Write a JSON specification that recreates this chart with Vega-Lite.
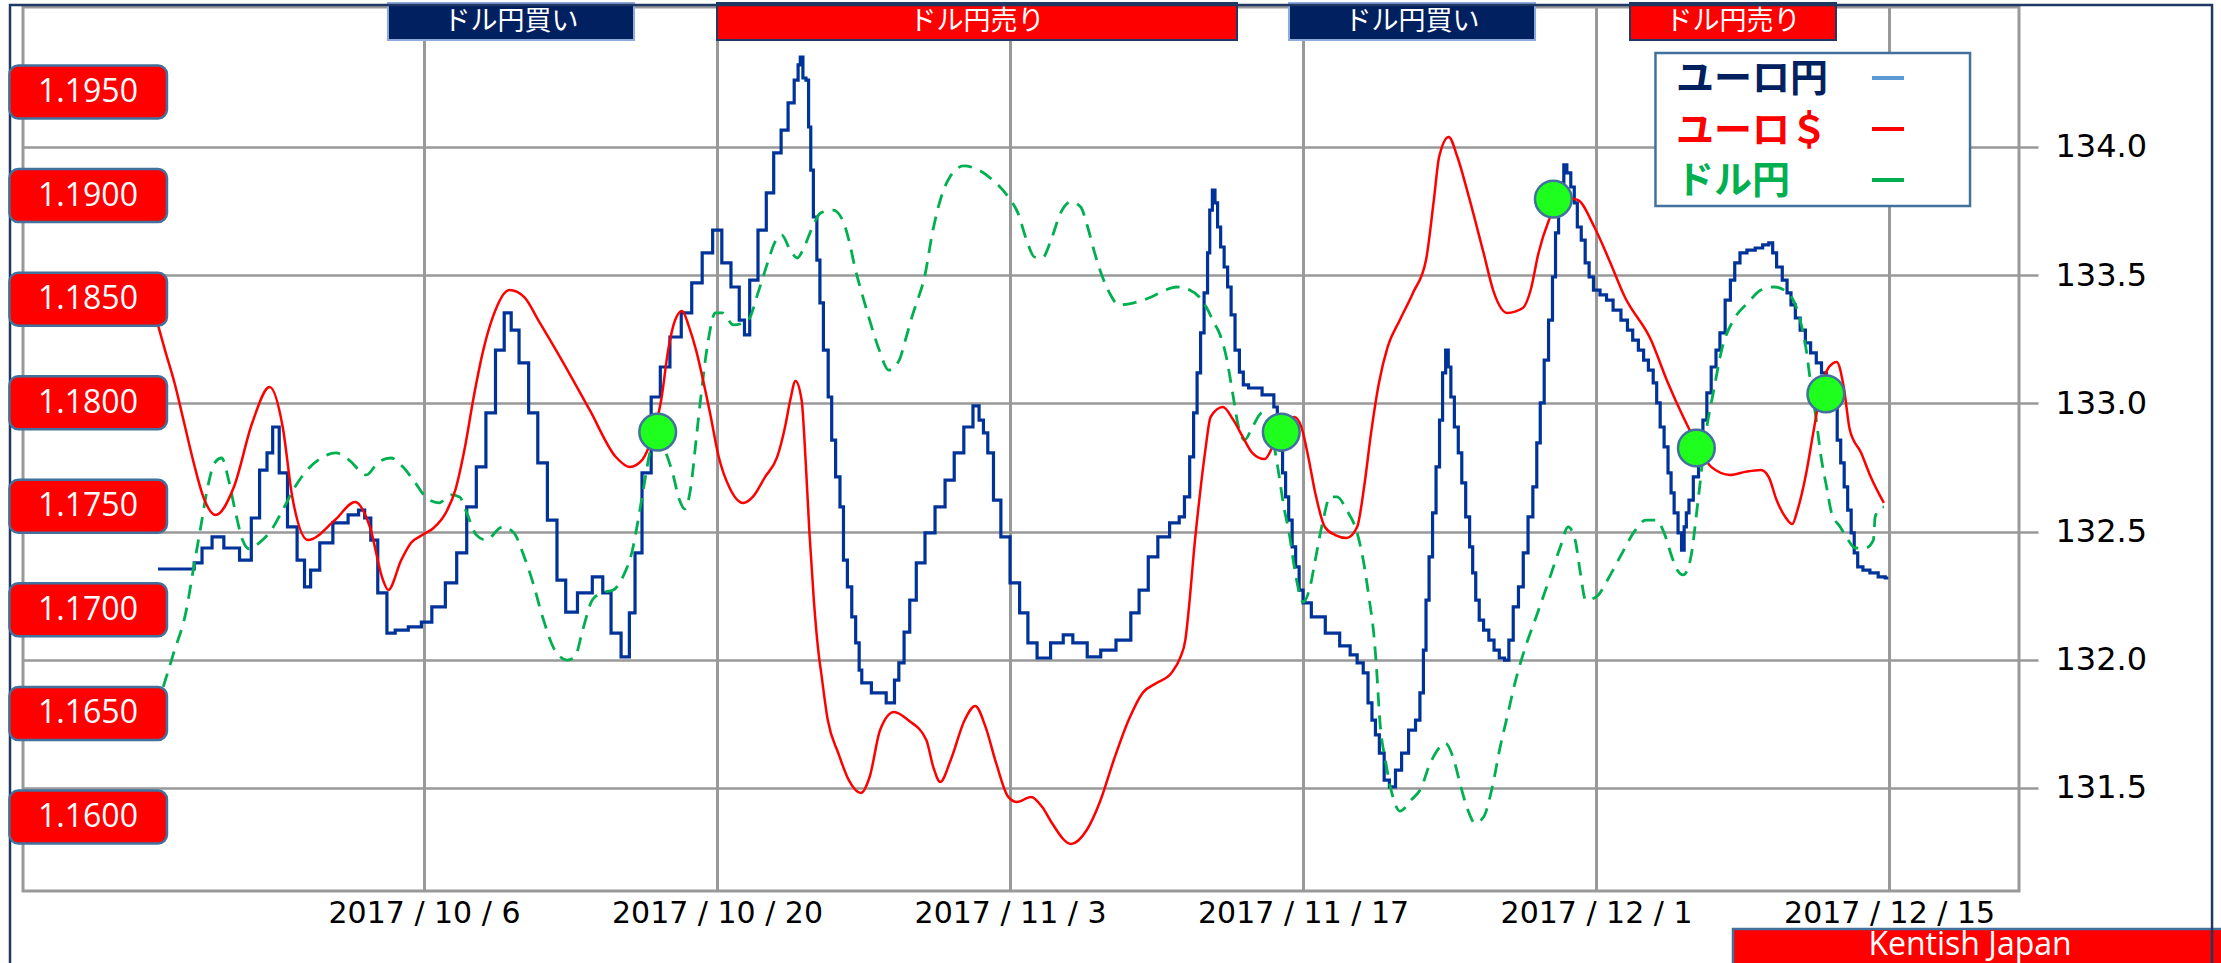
{
"$schema": "https://vega.github.io/schema/vega-lite/v6.json",
"width": 1996,
"height": 884,
"autosize": {"type": "none"},
"padding": {"left": 23, "top": 7, "right": 202, "bottom": 72},
"background": "#ffffff",
"config": {"view": {"stroke": "#999999", "strokeWidth": 3}, "font": "DejaVu Sans"},
"datasets": {
"eurjpy": [
{"date":"2017-09-23T07:00Z","rate":132.354},{"date":"2017-09-24T22:00Z","rate":132.354},{"date":"2017-09-25T03:00Z","rate":132.378},{"date":"2017-09-25T16:00Z","rate":132.436},{"date":"2017-09-26T02:00Z","rate":132.479},{"date":"2017-09-26T19:00Z","rate":132.436},{"date":"2017-09-27T14:00Z","rate":132.389},{"date":"2017-09-27T22:00Z","rate":132.553},{"date":"2017-09-28T09:00Z","rate":132.740},{"date":"2017-09-28T15:00Z","rate":132.807},{"date":"2017-09-28T22:00Z","rate":132.908},{"date":"2017-09-29T06:00Z","rate":132.729},{"date":"2017-09-29T17:00Z","rate":132.518},{"date":"2017-09-30T04:00Z","rate":132.389},{"date":"2017-09-30T10:00Z","rate":132.284},{"date":"2017-09-30T18:00Z","rate":132.350},{"date":"2017-10-01T07:00Z","rate":132.456},{"date":"2017-10-02T00:00Z","rate":132.534},{"date":"2017-10-02T18:00Z","rate":132.565},{"date":"2017-10-03T00:00Z","rate":132.584},{"date":"2017-10-03T08:00Z","rate":132.553},{"date":"2017-10-03T14:00Z","rate":132.467},{"date":"2017-10-04T00:00Z","rate":132.261},{"date":"2017-10-04T11:00Z","rate":132.104},{"date":"2017-10-04T19:00Z","rate":132.116},{"date":"2017-10-05T17:00Z","rate":132.128},{"date":"2017-10-06T01:00Z","rate":132.147},{"date":"2017-10-06T17:00Z","rate":132.206},{"date":"2017-10-07T08:00Z","rate":132.300},{"date":"2017-10-07T19:00Z","rate":132.417},{"date":"2017-10-08T07:00Z","rate":132.596},{"date":"2017-10-08T17:00Z","rate":132.752},{"date":"2017-10-09T05:00Z","rate":132.963},{"date":"2017-10-09T15:00Z","rate":133.208},{"date":"2017-10-10T01:00Z","rate":133.353},{"date":"2017-10-10T07:00Z","rate":133.286},{"date":"2017-10-10T19:00Z","rate":133.158},{"date":"2017-10-11T05:00Z","rate":132.963},{"date":"2017-10-11T16:00Z","rate":132.768},{"date":"2017-10-12T03:00Z","rate":132.545},{"date":"2017-10-12T14:00Z","rate":132.311},{"date":"2017-10-12T23:00Z","rate":132.186},{"date":"2017-10-13T17:00Z","rate":132.261},{"date":"2017-10-14T09:00Z","rate":132.323},{"date":"2017-10-14T17:00Z","rate":132.261},{"date":"2017-10-15T04:00Z","rate":132.104},{"date":"2017-10-15T16:00Z","rate":132.011},{"date":"2017-10-15T23:00Z","rate":132.183},{"date":"2017-10-16T05:00Z","rate":132.417},{"date":"2017-10-16T15:00Z","rate":132.729},{"date":"2017-10-17T02:00Z","rate":133.025},{"date":"2017-10-17T12:00Z","rate":133.142},{"date":"2017-10-18T00:00Z","rate":133.259},{"date":"2017-10-18T14:00Z","rate":133.353},{"date":"2017-10-19T00:00Z","rate":133.470},{"date":"2017-10-19T14:00Z","rate":133.587},{"date":"2017-10-20T00:00Z","rate":133.676},{"date":"2017-10-20T11:00Z","rate":133.548},{"date":"2017-10-20T21:00Z","rate":133.454},{"date":"2017-10-21T06:00Z","rate":133.325},{"date":"2017-10-21T09:00Z","rate":133.267},{"date":"2017-10-21T18:00Z","rate":133.481},{"date":"2017-10-22T04:00Z","rate":133.676},{"date":"2017-10-22T13:00Z","rate":133.821},{"date":"2017-10-22T21:00Z","rate":133.977},{"date":"2017-10-23T06:00Z","rate":134.066},{"date":"2017-10-23T13:00Z","rate":134.172},{"date":"2017-10-23T20:00Z","rate":134.261},{"date":"2017-10-23T22:00Z","rate":134.320},{"date":"2017-10-24T01:00Z","rate":134.351},{"date":"2017-10-24T04:00Z","rate":134.269},{"date":"2017-10-24T08:00Z","rate":134.261},{"date":"2017-10-24T10:00Z","rate":134.078},{"date":"2017-10-24T13:00Z","rate":133.910},{"date":"2017-10-24T16:00Z","rate":133.727},{"date":"2017-10-24T21:00Z","rate":133.559},{"date":"2017-10-24T23:00Z","rate":133.392},{"date":"2017-10-25T05:00Z","rate":133.208},{"date":"2017-10-25T10:00Z","rate":133.025},{"date":"2017-10-25T13:00Z","rate":132.857},{"date":"2017-10-25T19:00Z","rate":132.713},{"date":"2017-10-25T23:00Z","rate":132.596},{"date":"2017-10-26T03:00Z","rate":132.389},{"date":"2017-10-26T08:00Z","rate":132.284},{"date":"2017-10-26T13:00Z","rate":132.167},{"date":"2017-10-26T17:00Z","rate":132.066},{"date":"2017-10-26T21:00Z","rate":131.960},{"date":"2017-10-26T23:00Z","rate":131.910},{"date":"2017-10-27T19:00Z","rate":131.871},{"date":"2017-10-28T09:00Z","rate":131.832},{"date":"2017-10-28T14:00Z","rate":131.921},{"date":"2017-10-28T19:00Z","rate":131.988},{"date":"2017-10-29T02:00Z","rate":132.108},{"date":"2017-10-29T08:00Z","rate":132.233},{"date":"2017-10-29T17:00Z","rate":132.378},{"date":"2017-10-30T04:00Z","rate":132.495},{"date":"2017-10-30T16:00Z","rate":132.596},{"date":"2017-10-31T03:00Z","rate":132.701},{"date":"2017-10-31T13:00Z","rate":132.807},{"date":"2017-11-01T01:00Z","rate":132.908},{"date":"2017-11-01T10:00Z","rate":132.990},{"date":"2017-11-01T15:00Z","rate":132.935},{"date":"2017-11-01T20:00Z","rate":132.885},{"date":"2017-11-02T01:00Z","rate":132.807},{"date":"2017-11-02T09:00Z","rate":132.623},{"date":"2017-11-02T18:00Z","rate":132.479},{"date":"2017-11-03T06:00Z","rate":132.300},{"date":"2017-11-03T16:00Z","rate":132.183},{"date":"2017-11-04T01:00Z","rate":132.066},{"date":"2017-11-04T13:00Z","rate":132.007},{"date":"2017-11-05T08:00Z","rate":132.066},{"date":"2017-11-05T18:00Z","rate":132.097},{"date":"2017-11-06T06:00Z","rate":132.066},{"date":"2017-11-07T03:00Z","rate":132.011},{"date":"2017-11-07T13:00Z","rate":132.038},{"date":"2017-11-08T14:00Z","rate":132.077},{"date":"2017-11-08T23:00Z","rate":132.183},{"date":"2017-11-09T09:00Z","rate":132.272},{"date":"2017-11-09T20:00Z","rate":132.401},{"date":"2017-11-10T07:00Z","rate":132.479},{"date":"2017-11-10T23:00Z","rate":132.534},{"date":"2017-11-11T05:00Z","rate":132.557},{"date":"2017-11-11T11:00Z","rate":132.635},{"date":"2017-11-11T17:00Z","rate":132.791},{"date":"2017-11-11T20:00Z","rate":132.963},{"date":"2017-11-12T01:00Z","rate":133.119},{"date":"2017-11-12T04:00Z","rate":133.275},{"date":"2017-11-12T09:00Z","rate":133.431},{"date":"2017-11-12T12:00Z","rate":133.587},{"date":"2017-11-12T14:00Z","rate":133.754},{"date":"2017-11-12T18:00Z","rate":133.832},{"date":"2017-11-12T20:00Z","rate":133.782},{"date":"2017-11-13T00:00Z","rate":133.688},{"date":"2017-11-13T03:00Z","rate":133.610},{"date":"2017-11-13T08:00Z","rate":133.532},{"date":"2017-11-13T11:00Z","rate":133.454},{"date":"2017-11-13T16:00Z","rate":133.345},{"date":"2017-11-13T20:00Z","rate":133.208},{"date":"2017-11-14T02:00Z","rate":133.122},{"date":"2017-11-14T05:00Z","rate":133.072},{"date":"2017-11-14T14:00Z","rate":133.060},{"date":"2017-11-15T12:00Z","rate":133.033},{"date":"2017-11-15T17:00Z","rate":132.986},{"date":"2017-11-15T20:00Z","rate":132.935},{"date":"2017-11-15T23:00Z","rate":132.818},{"date":"2017-11-16T02:00Z","rate":132.729},{"date":"2017-11-16T06:00Z","rate":132.635},{"date":"2017-11-16T09:00Z","rate":132.545},{"date":"2017-11-16T14:00Z","rate":132.440},{"date":"2017-11-16T17:00Z","rate":132.362},{"date":"2017-11-16T22:00Z","rate":132.272},{"date":"2017-11-17T02:00Z","rate":132.222},{"date":"2017-11-17T17:00Z","rate":132.167},{"date":"2017-11-18T10:00Z","rate":132.104},{"date":"2017-11-19T02:00Z","rate":132.054},{"date":"2017-11-19T10:00Z","rate":132.019},{"date":"2017-11-19T18:00Z","rate":131.988},{"date":"2017-11-20T00:00Z","rate":131.949},{"date":"2017-11-20T05:00Z","rate":131.832},{"date":"2017-11-20T09:00Z","rate":131.765},{"date":"2017-11-20T13:00Z","rate":131.707},{"date":"2017-11-20T18:00Z","rate":131.636},{"date":"2017-11-21T00:00Z","rate":131.531},{"date":"2017-11-21T06:00Z","rate":131.504},{"date":"2017-11-21T14:00Z","rate":131.570},{"date":"2017-11-21T20:00Z","rate":131.636},{"date":"2017-11-22T06:00Z","rate":131.726},{"date":"2017-11-22T12:00Z","rate":131.765},{"date":"2017-11-22T16:00Z","rate":131.871},{"date":"2017-11-22T20:00Z","rate":132.038},{"date":"2017-11-22T22:00Z","rate":132.233},{"date":"2017-11-23T03:00Z","rate":132.401},{"date":"2017-11-23T06:00Z","rate":132.573},{"date":"2017-11-23T11:00Z","rate":132.752},{"date":"2017-11-23T14:00Z","rate":132.935},{"date":"2017-11-23T18:00Z","rate":133.119},{"date":"2017-11-23T21:00Z","rate":133.208},{"date":"2017-11-24T00:00Z","rate":133.142},{"date":"2017-11-24T03:00Z","rate":133.025},{"date":"2017-11-24T08:00Z","rate":132.908},{"date":"2017-11-24T12:00Z","rate":132.807},{"date":"2017-11-24T16:00Z","rate":132.690},{"date":"2017-11-24T21:00Z","rate":132.557},{"date":"2017-11-25T01:00Z","rate":132.440},{"date":"2017-11-25T04:00Z","rate":132.339},{"date":"2017-11-25T08:00Z","rate":132.233},{"date":"2017-11-25T12:00Z","rate":132.155},{"date":"2017-11-25T18:00Z","rate":132.116},{"date":"2017-11-26T00:00Z","rate":132.077},{"date":"2017-11-26T06:00Z","rate":132.038},{"date":"2017-11-26T12:00Z","rate":132.007},{"date":"2017-11-26T18:00Z","rate":131.999},{"date":"2017-11-26T22:00Z","rate":132.077},{"date":"2017-11-27T04:00Z","rate":132.206},{"date":"2017-11-27T10:00Z","rate":132.284},{"date":"2017-11-27T15:00Z","rate":132.417},{"date":"2017-11-27T21:00Z","rate":132.557},{"date":"2017-11-28T02:00Z","rate":132.674},{"date":"2017-11-28T06:00Z","rate":132.846},{"date":"2017-11-28T10:00Z","rate":133.002},{"date":"2017-11-28T15:00Z","rate":133.169},{"date":"2017-11-28T20:00Z","rate":133.325},{"date":"2017-11-29T00:00Z","rate":133.493},{"date":"2017-11-29T03:00Z","rate":133.665},{"date":"2017-11-29T07:00Z","rate":133.743},{"date":"2017-11-29T09:00Z","rate":133.860},{"date":"2017-11-29T13:00Z","rate":133.930},{"date":"2017-11-29T16:00Z","rate":133.899},{"date":"2017-11-29T22:00Z","rate":133.844},{"date":"2017-11-30T00:00Z","rate":133.782},{"date":"2017-11-30T05:00Z","rate":133.688},{"date":"2017-11-30T09:00Z","rate":133.637},{"date":"2017-11-30T14:00Z","rate":133.548},{"date":"2017-11-30T18:00Z","rate":133.493},{"date":"2017-12-01T00:00Z","rate":133.442},{"date":"2017-12-01T09:00Z","rate":133.423},{"date":"2017-12-01T15:00Z","rate":133.403},{"date":"2017-12-02T00:00Z","rate":133.364},{"date":"2017-12-02T09:00Z","rate":133.325},{"date":"2017-12-02T15:00Z","rate":133.286},{"date":"2017-12-02T21:00Z","rate":133.247},{"date":"2017-12-03T04:00Z","rate":133.208},{"date":"2017-12-03T09:00Z","rate":133.169},{"date":"2017-12-03T15:00Z","rate":133.130},{"date":"2017-12-03T20:00Z","rate":133.080},{"date":"2017-12-03T23:00Z","rate":133.002},{"date":"2017-12-04T04:00Z","rate":132.908},{"date":"2017-12-04T08:00Z","rate":132.830},{"date":"2017-12-04T13:00Z","rate":132.729},{"date":"2017-12-04T15:00Z","rate":132.651},{"date":"2017-12-04T20:00Z","rate":132.573},{"date":"2017-12-05T00:00Z","rate":132.495},{"date":"2017-12-05T04:00Z","rate":132.428},{"date":"2017-12-05T06:00Z","rate":132.518},{"date":"2017-12-05T09:00Z","rate":132.573},{"date":"2017-12-05T12:00Z","rate":132.623},{"date":"2017-12-05T19:00Z","rate":132.713},{"date":"2017-12-06T00:00Z","rate":132.830},{"date":"2017-12-06T05:00Z","rate":132.935},{"date":"2017-12-06T09:00Z","rate":133.041},{"date":"2017-12-06T15:00Z","rate":133.142},{"date":"2017-12-06T20:00Z","rate":133.208},{"date":"2017-12-07T00:00Z","rate":133.275},{"date":"2017-12-07T08:00Z","rate":133.403},{"date":"2017-12-07T12:00Z","rate":133.481},{"date":"2017-12-07T18:00Z","rate":133.548},{"date":"2017-12-08T00:00Z","rate":133.587},{"date":"2017-12-08T10:00Z","rate":133.598},{"date":"2017-12-08T19:00Z","rate":133.606},{"date":"2017-12-09T03:00Z","rate":133.618},{"date":"2017-12-09T09:00Z","rate":133.626},{"date":"2017-12-09T12:00Z","rate":133.587},{"date":"2017-12-09T18:00Z","rate":133.532},{"date":"2017-12-10T01:00Z","rate":133.481},{"date":"2017-12-10T05:00Z","rate":133.431},{"date":"2017-12-10T10:00Z","rate":133.384},{"date":"2017-12-10T15:00Z","rate":133.333},{"date":"2017-12-10T21:00Z","rate":133.286},{"date":"2017-12-11T03:00Z","rate":133.236},{"date":"2017-12-11T09:00Z","rate":133.197},{"date":"2017-12-11T16:00Z","rate":133.158},{"date":"2017-12-11T21:00Z","rate":133.119},{"date":"2017-12-12T03:00Z","rate":133.064},{"date":"2017-12-12T10:00Z","rate":132.986},{"date":"2017-12-12T15:00Z","rate":132.857},{"date":"2017-12-12T18:00Z","rate":132.768},{"date":"2017-12-12T23:00Z","rate":132.674},{"date":"2017-12-13T02:00Z","rate":132.584},{"date":"2017-12-13T07:00Z","rate":132.495},{"date":"2017-12-13T09:00Z","rate":132.417},{"date":"2017-12-13T15:00Z","rate":132.362},{"date":"2017-12-13T21:00Z","rate":132.350},{"date":"2017-12-14T07:00Z","rate":132.339},{"date":"2017-12-14T16:00Z","rate":132.323},{"date":"2017-12-14T23:00Z","rate":132.319}
],
"eurusd": [
{"date":"2017-09-23T07:00Z","rate":1.18375},{"date":"2017-09-23T15:00Z","rate":1.18254},{"date":"2017-09-24T02:00Z","rate":1.18095},{"date":"2017-09-24T13:00Z","rate":1.17902},{"date":"2017-09-25T00:00Z","rate":1.17709},{"date":"2017-09-25T11:00Z","rate":1.17545},{"date":"2017-09-26T01:00Z","rate":1.17458},{"date":"2017-09-26T22:00Z","rate":1.17593},{"date":"2017-09-27T19:00Z","rate":1.17902},{"date":"2017-09-28T15:00Z","rate":1.18076},{"date":"2017-09-29T06:00Z","rate":1.17883},{"date":"2017-09-29T17:00Z","rate":1.17545},{"date":"2017-09-30T11:00Z","rate":1.17337},{"date":"2017-10-01T18:00Z","rate":1.17434},{"date":"2017-10-02T17:00Z","rate":1.17521},{"date":"2017-10-03T10:00Z","rate":1.17400},{"date":"2017-10-04T01:00Z","rate":1.17144},{"date":"2017-10-04T07:00Z","rate":1.17096},{"date":"2017-10-04T22:00Z","rate":1.17241},{"date":"2017-10-05T09:00Z","rate":1.17323},{"date":"2017-10-05T22:00Z","rate":1.17361},{"date":"2017-10-06T11:00Z","rate":1.17395},{"date":"2017-10-07T01:00Z","rate":1.17468},{"date":"2017-10-07T12:00Z","rate":1.17579},{"date":"2017-10-07T23:00Z","rate":1.17786},{"date":"2017-10-08T09:00Z","rate":1.18028},{"date":"2017-10-08T20:00Z","rate":1.18254},{"date":"2017-10-09T07:00Z","rate":1.18414},{"date":"2017-10-10T02:00Z","rate":1.18544},{"date":"2017-10-10T19:00Z","rate":1.18510},{"date":"2017-10-11T11:00Z","rate":1.18399},{"date":"2017-10-12T14:00Z","rate":1.18206},{"date":"2017-10-13T22:00Z","rate":1.17965},{"date":"2017-10-15T04:00Z","rate":1.17738},{"date":"2017-10-15T20:00Z","rate":1.17690},{"date":"2017-10-16T10:00Z","rate":1.17723},{"date":"2017-10-16T23:00Z","rate":1.17854},{"date":"2017-10-17T08:00Z","rate":1.18013},{"date":"2017-10-17T16:00Z","rate":1.18254},{"date":"2017-10-18T00:00Z","rate":1.18399},{"date":"2017-10-18T08:00Z","rate":1.18443},{"date":"2017-10-18T16:00Z","rate":1.18365},{"date":"2017-10-19T00:00Z","rate":1.18254},{"date":"2017-10-19T08:00Z","rate":1.18110},{"date":"2017-10-19T16:00Z","rate":1.17950},{"date":"2017-10-20T02:00Z","rate":1.17738},{"date":"2017-10-20T14:00Z","rate":1.17593},{"date":"2017-10-21T06:00Z","rate":1.17516},{"date":"2017-10-21T17:00Z","rate":1.17545},{"date":"2017-10-22T07:00Z","rate":1.17641},{"date":"2017-10-22T21:00Z","rate":1.17738},{"date":"2017-10-23T06:00Z","rate":1.17883},{"date":"2017-10-23T12:00Z","rate":1.18013},{"date":"2017-10-23T18:00Z","rate":1.18105},{"date":"2017-10-24T01:00Z","rate":1.18013},{"date":"2017-10-24T06:00Z","rate":1.17690},{"date":"2017-10-24T10:00Z","rate":1.17371},{"date":"2017-10-24T15:00Z","rate":1.17048},{"date":"2017-10-24T21:00Z","rate":1.16772},{"date":"2017-10-24T23:00Z","rate":1.16710},{"date":"2017-10-25T07:00Z","rate":1.16468},{"date":"2017-10-25T19:00Z","rate":1.16309},{"date":"2017-10-26T07:00Z","rate":1.16179},{"date":"2017-10-26T21:00Z","rate":1.16116},{"date":"2017-10-27T07:00Z","rate":1.16193},{"date":"2017-10-27T19:00Z","rate":1.16420},{"date":"2017-10-28T11:00Z","rate":1.16507},{"date":"2017-10-29T03:00Z","rate":1.16468},{"date":"2017-10-30T00:00Z","rate":1.16372},{"date":"2017-10-30T08:00Z","rate":1.16241},{"date":"2017-10-30T16:00Z","rate":1.16169},{"date":"2017-10-31T04:00Z","rate":1.16275},{"date":"2017-10-31T20:00Z","rate":1.16468},{"date":"2017-11-01T08:00Z","rate":1.16536},{"date":"2017-11-01T20:00Z","rate":1.16434},{"date":"2017-11-02T08:00Z","rate":1.16261},{"date":"2017-11-02T22:00Z","rate":1.16097},{"date":"2017-11-03T08:00Z","rate":1.16072},{"date":"2017-11-04T00:00Z","rate":1.16097},{"date":"2017-11-04T13:00Z","rate":1.16048},{"date":"2017-11-05T00:00Z","rate":1.15971},{"date":"2017-11-05T22:00Z","rate":1.15870},{"date":"2017-11-06T16:00Z","rate":1.15937},{"date":"2017-11-07T07:00Z","rate":1.16072},{"date":"2017-11-07T23:00Z","rate":1.16275},{"date":"2017-11-08T16:00Z","rate":1.16468},{"date":"2017-11-09T08:00Z","rate":1.16599},{"date":"2017-11-10T00:00Z","rate":1.16647},{"date":"2017-11-10T17:00Z","rate":1.16695},{"date":"2017-11-11T03:00Z","rate":1.16768},{"date":"2017-11-11T09:00Z","rate":1.16854},{"date":"2017-11-11T14:00Z","rate":1.17048},{"date":"2017-11-11T19:00Z","rate":1.17289},{"date":"2017-11-12T01:00Z","rate":1.17530},{"date":"2017-11-12T08:00Z","rate":1.17772},{"date":"2017-11-12T14:00Z","rate":1.17931},{"date":"2017-11-13T04:00Z","rate":1.17979},{"date":"2017-11-13T16:00Z","rate":1.17917},{"date":"2017-11-14T03:00Z","rate":1.17834},{"date":"2017-11-14T14:00Z","rate":1.17757},{"date":"2017-11-15T04:00Z","rate":1.17728},{"date":"2017-11-15T15:00Z","rate":1.17806},{"date":"2017-11-16T02:00Z","rate":1.17902},{"date":"2017-11-16T14:00Z","rate":1.17931},{"date":"2017-11-16T22:00Z","rate":1.17883},{"date":"2017-11-17T06:00Z","rate":1.17738},{"date":"2017-11-17T14:00Z","rate":1.17564},{"date":"2017-11-18T01:00Z","rate":1.17400},{"date":"2017-11-18T13:00Z","rate":1.17361},{"date":"2017-11-19T02:00Z","rate":1.17347},{"date":"2017-11-19T14:00Z","rate":1.17400},{"date":"2017-11-19T22:00Z","rate":1.17593},{"date":"2017-11-20T06:00Z","rate":1.17854},{"date":"2017-11-20T15:00Z","rate":1.18095},{"date":"2017-11-21T01:00Z","rate":1.18269},{"date":"2017-11-21T15:00Z","rate":1.18399},{"date":"2017-11-22T06:00Z","rate":1.18530},{"date":"2017-11-22T21:00Z","rate":1.18689},{"date":"2017-11-23T06:00Z","rate":1.18979},{"date":"2017-11-23T12:00Z","rate":1.19186},{"date":"2017-11-23T23:00Z","rate":1.19283},{"date":"2017-11-24T09:00Z","rate":1.19186},{"date":"2017-11-24T21:00Z","rate":1.19012},{"date":"2017-11-25T15:00Z","rate":1.18723},{"date":"2017-11-26T03:00Z","rate":1.18530},{"date":"2017-11-26T18:00Z","rate":1.18433},{"date":"2017-11-27T12:00Z","rate":1.18457},{"date":"2017-11-27T21:00Z","rate":1.18544},{"date":"2017-11-28T06:00Z","rate":1.18723},{"date":"2017-11-28T18:00Z","rate":1.18882},{"date":"2017-11-29T09:00Z","rate":1.18993},{"date":"2017-11-30T03:00Z","rate":1.18979},{"date":"2017-11-30T22:00Z","rate":1.18848},{"date":"2017-12-01T15:00Z","rate":1.18689},{"date":"2017-12-02T09:00Z","rate":1.18510},{"date":"2017-12-03T15:00Z","rate":1.18303},{"date":"2017-12-04T09:00Z","rate":1.18110},{"date":"2017-12-05T04:00Z","rate":1.17931},{"date":"2017-12-05T19:00Z","rate":1.17806},{"date":"2017-12-06T12:00Z","rate":1.17690},{"date":"2017-12-07T10:00Z","rate":1.17651},{"date":"2017-12-08T03:00Z","rate":1.17666},{"date":"2017-12-08T21:00Z","rate":1.17675},{"date":"2017-12-09T06:00Z","rate":1.17641},{"date":"2017-12-09T15:00Z","rate":1.17530},{"date":"2017-12-10T01:00Z","rate":1.17448},{"date":"2017-12-10T09:00Z","rate":1.17414},{"date":"2017-12-10T15:00Z","rate":1.17482},{"date":"2017-12-11T01:00Z","rate":1.17661},{"date":"2017-12-11T09:00Z","rate":1.17854},{"date":"2017-12-11T18:00Z","rate":1.18061},{"date":"2017-12-12T03:00Z","rate":1.18172},{"date":"2017-12-12T12:00Z","rate":1.18197},{"date":"2017-12-12T20:00Z","rate":1.18076},{"date":"2017-12-13T03:00Z","rate":1.17868},{"date":"2017-12-13T16:00Z","rate":1.17757},{"date":"2017-12-14T03:00Z","rate":1.17641},{"date":"2017-12-14T18:00Z","rate":1.17516}
],
"usdjpy": [
{"date":"2017-09-23T13:00Z","rate":131.894},{"date":"2017-09-24T01:00Z","rate":132.027},{"date":"2017-09-24T15:00Z","rate":132.186},{"date":"2017-09-25T00:00Z","rate":132.362},{"date":"2017-09-25T08:00Z","rate":132.518},{"date":"2017-09-25T16:00Z","rate":132.674},{"date":"2017-09-26T00:00Z","rate":132.768},{"date":"2017-09-26T08:00Z","rate":132.787},{"date":"2017-09-26T16:00Z","rate":132.701},{"date":"2017-09-27T00:00Z","rate":132.573},{"date":"2017-09-27T08:00Z","rate":132.467},{"date":"2017-09-27T16:00Z","rate":132.432},{"date":"2017-09-28T03:00Z","rate":132.456},{"date":"2017-09-28T17:00Z","rate":132.506},{"date":"2017-09-29T06:00Z","rate":132.584},{"date":"2017-09-29T20:00Z","rate":132.674},{"date":"2017-09-30T10:00Z","rate":132.740},{"date":"2017-10-01T02:00Z","rate":132.787},{"date":"2017-10-01T19:00Z","rate":132.807},{"date":"2017-10-02T10:00Z","rate":132.779},{"date":"2017-10-03T06:00Z","rate":132.721},{"date":"2017-10-03T19:00Z","rate":132.768},{"date":"2017-10-04T10:00Z","rate":132.787},{"date":"2017-10-05T00:00Z","rate":132.752},{"date":"2017-10-05T14:00Z","rate":132.690},{"date":"2017-10-06T03:00Z","rate":132.631},{"date":"2017-10-06T17:00Z","rate":132.612},{"date":"2017-10-07T07:00Z","rate":132.643},{"date":"2017-10-07T17:00Z","rate":132.635},{"date":"2017-10-08T01:00Z","rate":132.573},{"date":"2017-10-08T12:00Z","rate":132.487},{"date":"2017-10-08T23:00Z","rate":132.467},{"date":"2017-10-09T18:00Z","rate":132.518},{"date":"2017-10-10T07:00Z","rate":132.495},{"date":"2017-10-10T19:00Z","rate":132.401},{"date":"2017-10-11T05:00Z","rate":132.300},{"date":"2017-10-11T16:00Z","rate":132.167},{"date":"2017-10-12T06:00Z","rate":132.038},{"date":"2017-10-12T20:00Z","rate":131.999},{"date":"2017-10-13T05:00Z","rate":132.011},{"date":"2017-10-13T14:00Z","rate":132.116},{"date":"2017-10-14T01:00Z","rate":132.233},{"date":"2017-10-14T12:00Z","rate":132.261},{"date":"2017-10-15T01:00Z","rate":132.272},{"date":"2017-10-15T12:00Z","rate":132.323},{"date":"2017-10-15T23:00Z","rate":132.428},{"date":"2017-10-16T07:00Z","rate":132.573},{"date":"2017-10-16T12:00Z","rate":132.674},{"date":"2017-10-16T20:00Z","rate":132.818},{"date":"2017-10-17T04:00Z","rate":132.857},{"date":"2017-10-17T12:00Z","rate":132.818},{"date":"2017-10-17T21:00Z","rate":132.729},{"date":"2017-10-18T05:00Z","rate":132.623},{"date":"2017-10-18T11:00Z","rate":132.588},{"date":"2017-10-18T18:00Z","rate":132.674},{"date":"2017-10-19T00:00Z","rate":132.857},{"date":"2017-10-19T06:00Z","rate":133.041},{"date":"2017-10-19T14:00Z","rate":133.247},{"date":"2017-10-19T22:00Z","rate":133.353},{"date":"2017-10-20T06:00Z","rate":133.353},{"date":"2017-10-20T19:00Z","rate":133.306},{"date":"2017-10-21T06:00Z","rate":133.314},{"date":"2017-10-21T12:00Z","rate":133.325},{"date":"2017-10-21T23:00Z","rate":133.431},{"date":"2017-10-22T10:00Z","rate":133.548},{"date":"2017-10-22T18:00Z","rate":133.626},{"date":"2017-10-23T02:00Z","rate":133.657},{"date":"2017-10-23T12:00Z","rate":133.598},{"date":"2017-10-23T20:00Z","rate":133.567},{"date":"2017-10-24T04:00Z","rate":133.610},{"date":"2017-10-24T12:00Z","rate":133.676},{"date":"2017-10-24T23:00Z","rate":133.743},{"date":"2017-10-25T13:00Z","rate":133.754},{"date":"2017-10-26T00:00Z","rate":133.715},{"date":"2017-10-26T08:00Z","rate":133.626},{"date":"2017-10-26T14:00Z","rate":133.532},{"date":"2017-10-26T22:00Z","rate":133.431},{"date":"2017-10-27T07:00Z","rate":133.325},{"date":"2017-10-27T18:00Z","rate":133.208},{"date":"2017-10-28T05:00Z","rate":133.130},{"date":"2017-10-28T17:00Z","rate":133.169},{"date":"2017-10-29T01:00Z","rate":133.259},{"date":"2017-10-29T09:00Z","rate":133.353},{"date":"2017-10-29T14:00Z","rate":133.403},{"date":"2017-10-29T22:00Z","rate":133.493},{"date":"2017-10-30T07:00Z","rate":133.665},{"date":"2017-10-30T16:00Z","rate":133.793},{"date":"2017-10-31T03:00Z","rate":133.883},{"date":"2017-10-31T19:00Z","rate":133.926},{"date":"2017-11-01T12:00Z","rate":133.910},{"date":"2017-11-02T04:00Z","rate":133.871},{"date":"2017-11-02T22:00Z","rate":133.805},{"date":"2017-11-03T09:00Z","rate":133.743},{"date":"2017-11-03T19:00Z","rate":133.637},{"date":"2017-11-04T04:00Z","rate":133.571},{"date":"2017-11-04T13:00Z","rate":133.567},{"date":"2017-11-04T23:00Z","rate":133.637},{"date":"2017-11-05T10:00Z","rate":133.743},{"date":"2017-11-05T22:00Z","rate":133.786},{"date":"2017-11-06T09:00Z","rate":133.766},{"date":"2017-11-06T17:00Z","rate":133.688},{"date":"2017-11-07T01:00Z","rate":133.587},{"date":"2017-11-07T10:00Z","rate":133.493},{"date":"2017-11-07T18:00Z","rate":133.431},{"date":"2017-11-08T05:00Z","rate":133.384},{"date":"2017-11-08T22:00Z","rate":133.392},{"date":"2017-11-09T18:00Z","rate":133.415},{"date":"2017-11-10T10:00Z","rate":133.442},{"date":"2017-11-10T23:00Z","rate":133.454},{"date":"2017-11-11T14:00Z","rate":133.442},{"date":"2017-11-12T01:00Z","rate":133.415},{"date":"2017-11-12T09:00Z","rate":133.376},{"date":"2017-11-12T18:00Z","rate":133.314},{"date":"2017-11-13T00:00Z","rate":133.275},{"date":"2017-11-13T08:00Z","rate":133.181},{"date":"2017-11-13T16:00Z","rate":133.025},{"date":"2017-11-13T21:00Z","rate":132.924},{"date":"2017-11-14T05:00Z","rate":132.857},{"date":"2017-11-14T14:00Z","rate":132.908},{"date":"2017-11-15T01:00Z","rate":132.963},{"date":"2017-11-15T10:00Z","rate":132.896},{"date":"2017-11-15T15:00Z","rate":132.830},{"date":"2017-11-15T20:00Z","rate":132.729},{"date":"2017-11-16T02:00Z","rate":132.596},{"date":"2017-11-16T08:00Z","rate":132.495},{"date":"2017-11-16T14:00Z","rate":132.362},{"date":"2017-11-16T19:00Z","rate":132.272},{"date":"2017-11-17T00:00Z","rate":132.225},{"date":"2017-11-17T08:00Z","rate":132.284},{"date":"2017-11-17T14:00Z","rate":132.389},{"date":"2017-11-17T23:00Z","rate":132.545},{"date":"2017-11-18T07:00Z","rate":132.635},{"date":"2017-11-18T15:00Z","rate":132.635},{"date":"2017-11-19T02:00Z","rate":132.584},{"date":"2017-11-19T14:00Z","rate":132.495},{"date":"2017-11-19T21:00Z","rate":132.389},{"date":"2017-11-20T04:00Z","rate":132.233},{"date":"2017-11-20T09:00Z","rate":132.104},{"date":"2017-11-20T12:00Z","rate":131.980},{"date":"2017-11-20T16:00Z","rate":131.765},{"date":"2017-11-20T23:00Z","rate":131.597},{"date":"2017-11-21T07:00Z","rate":131.465},{"date":"2017-11-21T15:00Z","rate":131.410},{"date":"2017-11-22T04:00Z","rate":131.453},{"date":"2017-11-22T16:00Z","rate":131.504},{"date":"2017-11-23T00:00Z","rate":131.582},{"date":"2017-11-23T08:00Z","rate":131.636},{"date":"2017-11-23T19:00Z","rate":131.675},{"date":"2017-11-24T05:00Z","rate":131.609},{"date":"2017-11-24T13:00Z","rate":131.504},{"date":"2017-11-24T21:00Z","rate":131.414},{"date":"2017-11-25T05:00Z","rate":131.363},{"date":"2017-11-25T15:00Z","rate":131.387},{"date":"2017-11-26T01:00Z","rate":131.504},{"date":"2017-11-26T10:00Z","rate":131.660},{"date":"2017-11-26T18:00Z","rate":131.777},{"date":"2017-11-27T03:00Z","rate":131.910},{"date":"2017-11-27T15:00Z","rate":132.050},{"date":"2017-11-28T02:00Z","rate":132.155},{"date":"2017-11-28T18:00Z","rate":132.311},{"date":"2017-11-29T07:00Z","rate":132.440},{"date":"2017-11-29T16:00Z","rate":132.518},{"date":"2017-11-30T00:00Z","rate":132.467},{"date":"2017-11-30T06:00Z","rate":132.339},{"date":"2017-11-30T12:00Z","rate":132.233},{"date":"2017-12-01T00:00Z","rate":132.245},{"date":"2017-12-01T15:00Z","rate":132.323},{"date":"2017-12-02T06:00Z","rate":132.417},{"date":"2017-12-02T21:00Z","rate":132.506},{"date":"2017-12-03T09:00Z","rate":132.545},{"date":"2017-12-03T21:00Z","rate":132.545},{"date":"2017-12-04T06:00Z","rate":132.495},{"date":"2017-12-04T15:00Z","rate":132.401},{"date":"2017-12-04T21:00Z","rate":132.350},{"date":"2017-12-05T04:00Z","rate":132.331},{"date":"2017-12-05T12:00Z","rate":132.389},{"date":"2017-12-05T21:00Z","rate":132.623},{"date":"2017-12-06T06:00Z","rate":132.885},{"date":"2017-12-06T15:00Z","rate":133.052},{"date":"2017-12-07T00:00Z","rate":133.208},{"date":"2017-12-07T15:00Z","rate":133.333},{"date":"2017-12-08T06:00Z","rate":133.392},{"date":"2017-12-08T21:00Z","rate":133.442},{"date":"2017-12-09T12:00Z","rate":133.454},{"date":"2017-12-10T04:00Z","rate":133.431},{"date":"2017-12-10T18:00Z","rate":133.325},{"date":"2017-12-11T01:00Z","rate":133.208},{"date":"2017-12-11T06:00Z","rate":133.080},{"date":"2017-12-11T12:00Z","rate":132.947},{"date":"2017-12-11T18:00Z","rate":132.791},{"date":"2017-12-12T01:00Z","rate":132.662},{"date":"2017-12-12T06:00Z","rate":132.573},{"date":"2017-12-12T16:00Z","rate":132.518},{"date":"2017-12-13T01:00Z","rate":132.467},{"date":"2017-12-13T09:00Z","rate":132.436},{"date":"2017-12-13T21:00Z","rate":132.436},{"date":"2017-12-14T06:00Z","rate":132.467},{"date":"2017-12-14T08:00Z","rate":132.557},{"date":"2017-12-14T14:00Z","rate":132.592},{"date":"2017-12-14T18:00Z","rate":132.596}
],
"cross": [
{"date":"2017-10-17T04:00Z","rate":132.888},{"date":"2017-11-15T23:00Z","rate":132.888},{"date":"2017-11-28T23:00Z","rate":133.797},{"date":"2017-12-05T19:00Z","rate":132.826},{"date":"2017-12-11T23:30Z","rate":133.037}
],
"signals": [
{"signal":"ドル円買い","start":"2017-10-04T06:42Z","end":"2017-10-16T00:48Z"},
{"signal":"ドル円売り","start":"2017-10-20T00:00Z","end":"2017-11-13T20:18Z"},
{"signal":"ドル円買い","start":"2017-11-16T07:54Z","end":"2017-11-28T02:00Z"},
{"signal":"ドル円売り","start":"2017-12-02T14:54Z","end":"2017-12-12T11:06Z"}
],
"eurusdTicks": [
{"rate":1.160},{"rate":1.165},{"rate":1.170},{"rate":1.175},{"rate":1.180},{"rate":1.185},{"rate":1.190},{"rate":1.195}
]
},
"layer": [
{
"layer": [
{
"data": {"name": "eurjpy"},
"mark": {"type": "line", "color": "#003399", "strokeWidth": 3.2, "interpolate": "step"},
"encoding": {
"x": {"field": "date", "type": "temporal",
"scale": {"type": "utc", "nice": false, "domain": [{"year": 2017, "month": 9, "date": 16, "hours": 20, "minutes": 12, "utc": true}, {"year": 2017, "month": 12, "date": 21, "hours": 4, "minutes": 57, "utc": true}]},
"axis": {"orient": "bottom", "title": null, "values": [{"year": 2017, "month": 10, "date": 6, "utc": true}, {"year": 2017, "month": 10, "date": 20, "utc": true}, {"year": 2017, "month": 11, "date": 3, "utc": true}, {"year": 2017, "month": 11, "date": 17, "utc": true}, {"year": 2017, "month": 12, "date": 1, "utc": true}, {"year": 2017, "month": 12, "date": 15, "utc": true}],
"format": "%Y / %-m / %-d", "grid": true, "gridColor": "#999999", "gridWidth": 3, "ticks": false, "tickSize": 0, "domain": false,
"labelFont": "DejaVu Sans", "labelFontSize": 30, "labelColor": "#000000", "labelPadding": 7, "labelOverlap": false, "labelFlush": false, "labelLimit": 0}},
"y": {"field": "rate", "type": "quantitative",
"scale": {"domain": [131.0982, 134.546], "nice": false, "zero": false},
"axis": {"orient": "right", "title": null, "values": [131.5, 132, 132.5, 133, 133.5, 134], "format": ".1f", "grid": true, "gridColor": "#999999", "gridWidth": 2.5, "tickColor": "#999999", "tickWidth": 2.5, "tickSize": 19, "domain": false, "labelFont": "DejaVu Sans", "labelFontSize": 32, "labelColor": "#000000", "labelPadding": 17, "labelLimit": 0}}
}
},
{
"data": {"name": "usdjpy"},
"mark": {"type": "line", "color": "#00B050", "strokeWidth": 2.8, "strokeDash": [14, 9], "interpolate": "monotone"},
"encoding": {
"x": {"field": "date", "type": "temporal", "axis": null},
"y": {"field": "rate", "type": "quantitative", "axis": null}
}
},
{
"data": {"name": "signals"},
"mark": {"type": "rect", "strokeWidth": 2, "clip": false},
"encoding": {
"x": {"field": "start", "type": "temporal", "axis": null},
"x2": {"field": "end"},
"y": {"datum": 134.5616, "type": "quantitative", "axis": null},
"y2": {"datum": 134.4173},
"fill": {"field": "signal", "type": "nominal", "scale": {"domain": ["ドル円買い", "ドル円売り"], "range": ["#002060", "#FF0000"]}, "legend": null},
"stroke": {"field": "signal", "type": "nominal", "scale": {"domain": ["ドル円買い", "ドル円売り"], "range": ["#8FAADC", "#1F3864"]}, "legend": null}
}
},
{
"data": {"name": "signals"},
"transform": [{"calculate": "(time(datum.start) + time(datum.end)) / 2", "as": "mid"}],
"mark": {"type": "text", "color": "#FFFFFF", "font": "Noto Sans CJK JP", "fontSize": 27, "align": "center", "baseline": "middle", "clip": false},
"encoding": {
"x": {"field": "mid", "type": "temporal", "axis": null},
"y": {"datum": 134.488, "type": "quantitative", "axis": null},
"text": {"field": "signal", "type": "nominal"}
}
},
{
"data": {"values": [{}]},
"mark": {"type": "rect", "fill": "#FFFFFF", "stroke": "#41719C", "strokeWidth": 2.5},
"encoding": {
"x": {"datum": {"year": 2017, "month": 12, "date": 3, "hours": 20, "minutes": 6, "utc": true}, "type": "temporal", "axis": null},
"x2": {"datum": {"year": 2017, "month": 12, "date": 18, "hours": 20, "minutes": 48, "utc": true}},
"y": {"datum": 134.367, "type": "quantitative", "axis": null},
"y2": {"datum": 133.770}
}
},
{
"data": {"values": [{}]},
"mark": {"type": "text", "text": "ユーロ円", "color": "#002060", "font": "Noto Sans CJK JP", "fontWeight": "bold", "fontSize": 38, "align": "left", "baseline": "middle"},
"encoding": {
"x": {"datum": {"year": 2017, "month": 12, "date": 4, "hours": 19, "minutes": 36, "utc": true}, "type": "temporal", "axis": null},
"y": {"datum": 134.262, "type": "quantitative", "axis": null}
}
},
{
"data": {"values": [{}]},
"mark": {"type": "text", "text": "ユーロ＄", "color": "#FF0000", "font": "Noto Sans CJK JP", "fontWeight": "bold", "fontSize": 38, "align": "left", "baseline": "middle"},
"encoding": {
"x": {"datum": {"year": 2017, "month": 12, "date": 4, "hours": 19, "minutes": 36, "utc": true}, "type": "temporal", "axis": null},
"y": {"datum": 134.059, "type": "quantitative", "axis": null}
}
},
{
"data": {"values": [{}]},
"mark": {"type": "text", "text": "ドル円", "color": "#00B050", "font": "Noto Sans CJK JP", "fontWeight": "bold", "fontSize": 38, "align": "left", "baseline": "middle"},
"encoding": {
"x": {"datum": {"year": 2017, "month": 12, "date": 4, "hours": 19, "minutes": 36, "utc": true}, "type": "temporal", "axis": null},
"y": {"datum": 133.864, "type": "quantitative", "axis": null}
}
},
{
"data": {"values": [{}]},
"mark": {"type": "rule", "color": "#5B9BD5", "strokeWidth": 4},
"encoding": {
"x": {"datum": {"year": 2017, "month": 12, "date": 14, "hours": 4, "minutes": 24, "utc": true}, "type": "temporal", "axis": null},
"x2": {"datum": {"year": 2017, "month": 12, "date": 15, "hours": 17, "minutes": 6, "utc": true}},
"y": {"datum": 134.269, "type": "quantitative", "axis": null}
}
},
{
"data": {"values": [{}]},
"mark": {"type": "rule", "color": "#FF0000", "strokeWidth": 4},
"encoding": {
"x": {"datum": {"year": 2017, "month": 12, "date": 14, "hours": 4, "minutes": 24, "utc": true}, "type": "temporal", "axis": null},
"x2": {"datum": {"year": 2017, "month": 12, "date": 15, "hours": 17, "minutes": 6, "utc": true}},
"y": {"datum": 134.070, "type": "quantitative", "axis": null}
}
},
{
"data": {"values": [{}]},
"mark": {"type": "rule", "color": "#00B050", "strokeWidth": 4},
"encoding": {
"x": {"datum": {"year": 2017, "month": 12, "date": 14, "hours": 4, "minutes": 24, "utc": true}, "type": "temporal", "axis": null},
"x2": {"datum": {"year": 2017, "month": 12, "date": 15, "hours": 17, "minutes": 6, "utc": true}},
"y": {"datum": 133.871, "type": "quantitative", "axis": null}
}
},
{
"data": {"values": [{}]},
"mark": {"type": "rect", "fill": "#FF0000", "stroke": "#41719C", "strokeWidth": 2.5, "clip": false},
"encoding": {
"x": {"datum": {"year": 2017, "month": 12, "date": 7, "hours": 13, "minutes": 0, "utc": true}, "type": "temporal", "axis": null},
"x2": {"datum": {"year": 2017, "month": 12, "date": 31, "hours": 1, "minutes": 12, "utc": true}},
"y": {"datum": 130.950, "type": "quantitative", "axis": null},
"y2": {"datum": 130.6}
}
},
{
"data": {"values": [{}]},
"mark": {"type": "text", "text": "Kentish Japan", "color": "#FFFFFF", "font": "Open Sans", "fontSize": 32, "align": "center", "baseline": "alphabetic", "clip": false},
"encoding": {
"x": {"datum": {"year": 2017, "month": 12, "date": 18, "hours": 20, "minutes": 48, "utc": true}, "type": "temporal", "axis": null},
"y": {"datum": 130.849, "type": "quantitative", "axis": null}
}
}
],
"resolve": {"axis": {"x": "independent", "y": "independent"}}
},
{
"layer": [
{
"data": {"values": [{}]},
"mark": {"type": "rect", "filled": false, "fillOpacity": 0, "stroke": "#1F3864", "strokeWidth": 2.5, "clip": false},
"encoding": {
"x": {"datum": {"year": 2017, "month": 9, "date": 16, "hours": 5, "minutes": 18, "utc": true}, "type": "temporal", "axis": null},
"x2": {"datum": {"year": 2017, "month": 12, "date": 30, "hours": 10, "minutes": 18, "utc": true}},
"y": {"datum": 1.1992, "type": "quantitative", "axis": null},
"y2": {"datum": 1.15}
}
},
{
"data": {"name": "eurusd"},
"mark": {"type": "line", "color": "#FF0000", "strokeWidth": 2.5, "interpolate": "monotone"},
"encoding": {
"x": {"field": "date", "type": "temporal", "axis": null},
"y": {"field": "rate", "type": "quantitative", "axis": null, "scale": {"domain": [1.156427, 1.199103], "nice": false, "zero": false}}
}
},
{
"data": {"name": "eurusdTicks"},
"mark": {"type": "rect", "fill": "#FF0000", "stroke": "#41719C", "strokeWidth": 2.5, "cornerRadius": 9, "yOffset": -26.5, "y2Offset": 26.5, "clip": false},
"encoding": {
"x": {"datum": {"year": 2017, "month": 9, "date": 16, "hours": 4, "minutes": 36, "utc": true}, "type": "temporal", "axis": null},
"x2": {"datum": {"year": 2017, "month": 9, "date": 23, "hours": 17, "minutes": 18, "utc": true}},
"y": {"field": "rate", "type": "quantitative", "axis": null},
"y2": {"field": "rate"}
}
},
{
"data": {"name": "eurusdTicks"},
"mark": {"type": "text", "color": "#FFFFFF", "font": "Open Sans", "fontSize": 32, "align": "center", "baseline": "middle", "clip": false},
"encoding": {
"x": {"datum": {"year": 2017, "month": 9, "date": 19, "hours": 22, "minutes": 42, "utc": true}, "type": "temporal", "axis": null},
"y": {"field": "rate", "type": "quantitative", "axis": null},
"text": {"field": "rate", "type": "quantitative", "format": ".4f"}
}
}
],
"resolve": {"axis": {"x": "independent", "y": "independent"}}
},
{
"data": {"name": "cross"},
"mark": {"type": "point", "shape": "circle", "filled": true, "fill": "#1EFF1E", "stroke": "#41719C", "strokeWidth": 2.5, "size": 1350, "opacity": 1},
"encoding": {
"x": {"field": "date", "type": "temporal", "axis": null},
"y": {"field": "rate", "type": "quantitative", "axis": null, "scale": {"domain": [131.0982, 134.546], "nice": false, "zero": false}}
}
}
],
"resolve": {"scale": {"y": "independent"}, "axis": {"x": "independent", "y": "independent"}}
}
